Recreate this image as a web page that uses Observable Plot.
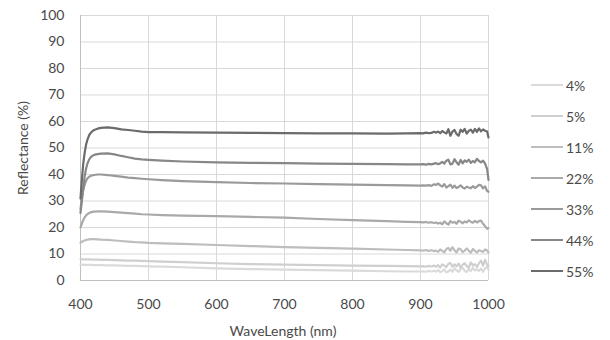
<!DOCTYPE html>
<html><head><meta charset="utf-8">
<script src="https://cdn.jsdelivr.net/npm/d3@7"></script>
<script src="https://cdn.jsdelivr.net/npm/@observablehq/plot@0.6"></script>
<style>
body{margin:0;background:#fff;}
#wrap{position:relative;width:610px;height:340px;font-family:Lato,"Open Sans",sans-serif;color:#4a4a4a;}
.lab{position:absolute;font-size:14px;color:#4a4a4a;white-space:nowrap;}
.leg{position:absolute;left:531px;font-size:14px;color:#4a4a4a;display:flex;align-items:center;}
.leg span.sw{display:inline-block;width:32px;height:2px;margin-right:3px;}
</style></head><body>
<div id="wrap"></div>
<script>
const wl = [400,402,404,406,408,410,413,416,420,425,430,440,450,460,470,480,490,500,520,550,600,650,700,750,800,850,880,
900,904,908,912,916,920,923,926,929,932,935,938,941,944,947,950,953,956,959,962,965,968,971,974,977,980,983,986,989,992,995,998,1000];

const seriesNames = ["4%","5%","11%","22%","33%","44%","55%"];
const seriesColors = ["#dadada","#cfcfcf","#bdbdbd","#a9a9a9","#9a9a9a","#878787","#6b6b6b"];

const s55 = [31,38,44,48,51,53,55,56,56.8,57.3,57.6,57.8,57.5,57,56.8,56.5,56.2,56,56,55.9,55.8,55.7,55.6,55.5,55.5,55.4,55.5,
55.6,55.5,55.8,55.6,55.7,56.1,55.8,56.2,55.6,56.4,55.9,55.5,57.1,54.6,56.2,56.8,55.3,54.6,56.9,56.1,57.2,55.4,56.5,56.9,55.8,57.2,56.1,57.4,56.3,57,56.5,56.2,54];
const s44 = [25.5,30,35,39,42,44,45.8,46.8,47.4,47.7,47.9,48,47.6,47,46.5,46,45.7,45.5,45.2,44.9,44.6,44.4,44.3,44.1,44,43.9,43.8,
43.8,43.9,43.7,44,43.8,44.1,44.3,43.9,44.2,44.8,44.1,45.2,45.6,43.8,44.1,45.8,44.6,43.7,45.5,44.2,45.3,44.8,45.6,44.4,45.1,44.6,45.9,45.1,44.6,45.2,44.1,42,38];
const s33 = [27,31,34,36,37.5,38.5,39.2,39.6,39.8,40,40,39.8,39.5,39.2,38.8,38.6,38.4,38.2,37.9,37.5,37.1,36.8,36.6,36.4,36.2,36,35.9,
35.8,35.9,35.8,36,35.7,36.3,36.1,36.6,35.9,35.4,36.4,35.1,35.6,36.2,35.0,35.8,34.9,35.3,35.9,35.1,34.7,35.4,35.1,34.8,35.6,34.9,35.4,36.1,35.9,34.8,35.5,33.8,33.5];
const s22 = [20,21.5,22.8,23.8,24.5,25,25.5,25.8,26,26.1,26.1,26,25.8,25.6,25.4,25.2,25,24.9,24.7,24.5,24.3,24,23.7,23.2,22.8,22.4,22.1,
22,21.9,22.1,21.8,22,21.7,21.9,21.5,21.8,21.2,22.3,21.6,21.1,22.4,21.8,22.1,21.4,22.6,22.2,21.6,22.3,21.9,22.7,22.2,21.8,22.5,21.9,22.4,22.6,21.4,20.5,19.5,19.8];
const s11 = [14.2,14.6,14.9,15.1,15.3,15.4,15.5,15.6,15.6,15.5,15.4,15.3,15.1,14.9,14.7,14.5,14.4,14.2,14,13.8,13.4,13,12.6,12.3,12,11.7,11.5,
11.4,11.3,11.5,11.2,11.4,11.1,11.3,10.8,11.7,11.2,10.6,11.9,12.3,11.2,12.6,11.4,10.6,12.1,11.8,10.7,11.3,12.1,11.2,10.5,11.9,11.2,10.6,11.4,11.1,10.8,11.7,11.3,10.5];
const s5 = [8,8,8,8,8,8,8,7.9,7.9,7.9,7.8,7.8,7.7,7.6,7.5,7.5,7.4,7.3,7.1,6.9,6.5,6.2,6,5.8,5.6,5.5,5.4,
5.3,5.4,5.2,5.5,5.3,5.6,5.2,5.8,4.9,6.1,5.6,5.1,6.3,6.6,5.2,6.1,5.3,6.4,4.8,6.0,6.5,5.4,4.9,6.8,5.7,6.2,5.1,6.5,7.5,5.6,7.8,6,5.5];
const s4 = [6,6,5.9,5.9,5.9,5.9,5.9,5.9,5.8,5.8,5.8,5.7,5.7,5.6,5.5,5.5,5.4,5.3,5.2,5,4.6,4.3,4.1,3.9,3.7,3.5,3.4,
3.4,3.5,3.3,3.6,3.4,3.7,3.3,3.9,3.2,3.5,4.2,3.1,3.4,4.1,3.3,4.6,3.8,3.3,4.4,4.8,3.6,3.2,4.4,3.5,4.9,3.8,4.2,3.6,4.5,3.3,4.6,5.2,4];

const xTicks = [400,500,600,700,800,900,1000];
const yTicks = [0,10,20,30,40,50,60,70,80,90,100];

const allSeries = [s4,s5,s11,s22,s33,s44,s55];
const rows = [];
allSeries.forEach((s,i)=> s.forEach((v,j)=> rows.push({wl: wl[j], r: v, name: seriesNames[i]})));

const chart = Plot.plot({
  width: 610, height: 340,
  marginLeft: 80, marginRight: 122, marginTop: 15, marginBottom: 60,
  style: {fontFamily: "Lato, 'Open Sans', sans-serif", fontSize: "14px", color: "#4a4a4a", background: "#fff"},
  x: {domain: [400,1000], ticks: xTicks, tickSize: 0, tickPadding: 19, label: null, tickFormat: d => String(d)},
  y: {domain: [0,100], ticks: yTicks, tickSize: 0, tickPadding: 16, label: null},
  color: {domain: seriesNames, range: seriesColors},
  marks: [
    Plot.gridX(xTicks, {stroke: "#d9d9d9", strokeOpacity: 1, strokeWidth: 1}),
    Plot.gridY(yTicks, {stroke: "#d9d9d9", strokeOpacity: 1, strokeWidth: 1}),
    Plot.ruleX([400], {stroke: "#bfbfbf"}),
    Plot.ruleY([0], {stroke: "#bfbfbf"}),
    Plot.line(rows, {x: "wl", y: "r", z: "name", stroke: "name", strokeWidth: 2.2, curve: "linear"}),
    Plot.axisX(xTicks, {tickSize: 0, tickPadding: 19, fill: "#4a4a4a", fontSize: 14, label: null, tickFormat: d => String(d)}),
    Plot.axisY(yTicks, {tickSize: 0, tickPadding: 16, fill: "#4a4a4a", fontSize: 14, label: null})
  ]
});
const wrap = document.getElementById("wrap");
chart.style.position = "absolute"; chart.style.left = "0"; chart.style.top = "0";
wrap.appendChild(chart);

const yl = document.createElement("div");
yl.className = "lab"; yl.textContent = "Reflectance (%)";
yl.style.left = "22px"; yl.style.top = "148px";
yl.style.transform = "translate(-50%,-50%) rotate(-90deg)";
wrap.appendChild(yl);

const xl = document.createElement("div");
xl.className = "lab"; xl.textContent = "WaveLength (nm)";
xl.style.left = "283px"; xl.style.top = "330px";
xl.style.transform = "translate(-50%,-50%)";
wrap.appendChild(xl);

const legY = [85,116,147,178,209,240,271];
seriesNames.forEach((n,i)=>{
  const d = document.createElement("div");
  d.className = "leg";
  d.style.top = (legY[i]-9) + "px"; d.style.height = "18px";
  const sw = document.createElement("span"); sw.className = "sw"; sw.style.background = seriesColors[i];
  d.appendChild(sw);
  const t = document.createElement("span"); t.textContent = n;
  d.appendChild(t);
  wrap.appendChild(d);
});
</script>
</body></html>
